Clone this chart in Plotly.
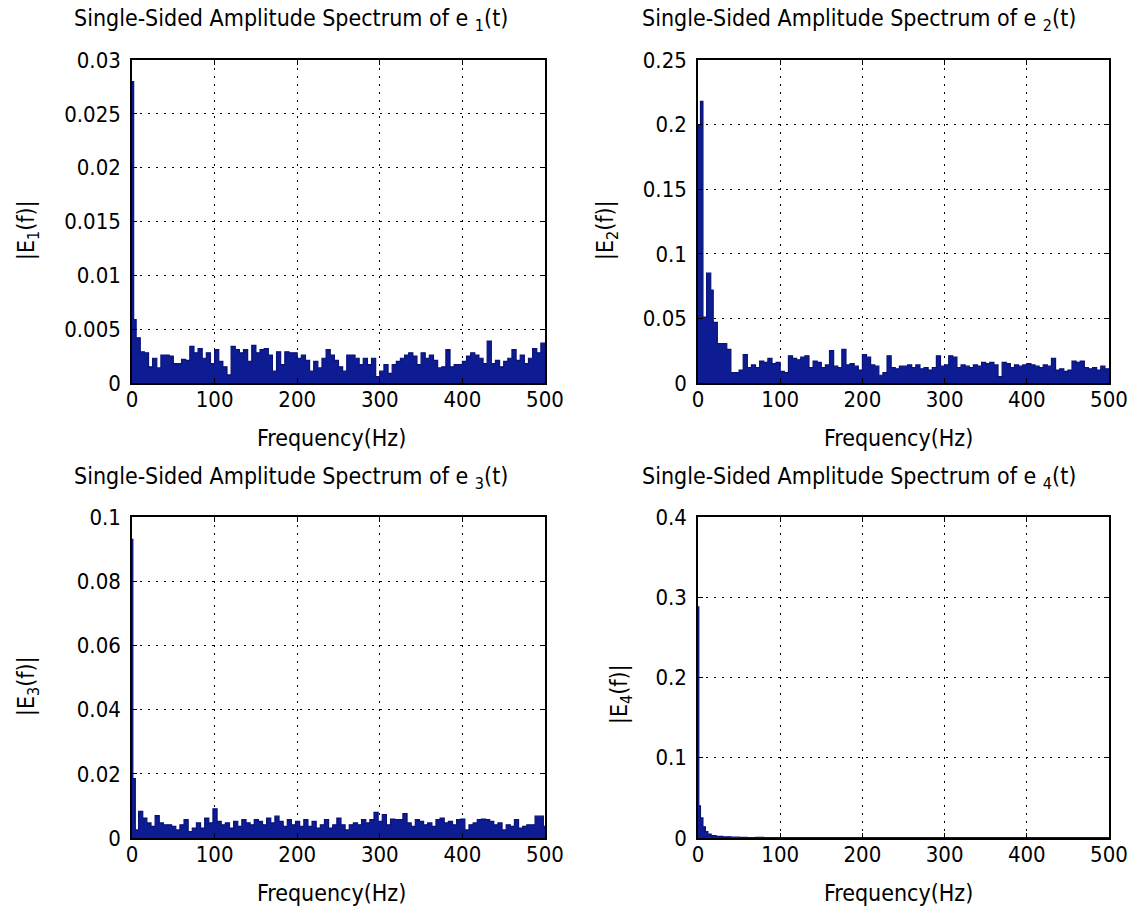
import plotly.graph_objects as go

# ---------------- data ----------------
# e1: frequency bins (Hz) and amplitudes
f1 = [0, 2] + list(range(5, 505, 5))
a1 = [0.028, 0.0059,
      0.0042, 0.0029, 0.0028, 0.0015, 0.0023, 0.0014, 0.0026, 0.0026, 0.0025, 0.0018,
      0.0018, 0.0022, 0.0021, 0.0034, 0.0028, 0.0032, 0.0023, 0.0028, 0.0018, 0.0031,
      0.0020, 0.0015, 0.00075, 0.0034, 0.0031, 0.0028, 0.0031, 0.0020, 0.0035, 0.0028,
      0.0031, 0.0032, 0.0026, 0.0011, 0.0029, 0.0017, 0.0029, 0.0028, 0.0028, 0.0023,
      0.0026, 0.0021, 0.0011, 0.0020, 0.0014, 0.0023, 0.0031, 0.0026, 0.0021, 0.0015,
      0.0011, 0.0026, 0.0026, 0.0023, 0.0017, 0.0023, 0.0017, 0.0023, 0.0006, 0.0011,
      0.0017, 0.0009, 0.0017, 0.0020, 0.0023, 0.0026, 0.0028, 0.0025, 0.0017, 0.0028,
      0.0023, 0.0026, 0.0021, 0.0014, 0.0015, 0.0031, 0.0015, 0.0017, 0.0017, 0.0020,
      0.0025, 0.0028, 0.0026, 0.0023, 0.0018, 0.0039, 0.0018, 0.0021, 0.0015, 0.0020,
      0.0023, 0.0031, 0.0021, 0.0026, 0.0018, 0.0023, 0.0032, 0.0028, 0.0037, 0.0037]

# e2
f2 = [0, 3, 6, 10.5, 15.5, 18.5, 23.5, 35, 40] + list(range(45, 505, 5))
a2 = [0.200, 0.218, 0.051, 0.085, 0.072, 0.047, 0.0305, 0.026, 0.008,
      0.008, 0.010, 0.022, 0.012, 0.014, 0.012, 0.017, 0.016, 0.019, 0.015,
      0.016, 0.009, 0.008, 0.021, 0.019, 0.018, 0.020, 0.021, 0.012, 0.017,
      0.016, 0.012, 0.014, 0.025, 0.013, 0.012, 0.026, 0.014, 0.015, 0.013,
      0.010, 0.022, 0.020, 0.014, 0.013, 0.006, 0.008, 0.021, 0.012, 0.011,
      0.013, 0.013, 0.014, 0.012, 0.014, 0.011, 0.012, 0.010, 0.012, 0.021,
      0.013, 0.014, 0.021, 0.020, 0.012, 0.014, 0.013, 0.012, 0.014, 0.013,
      0.016, 0.015, 0.016, 0.014, 0.005, 0.016, 0.015, 0.012, 0.014, 0.013,
      0.014, 0.015, 0.014, 0.013, 0.012, 0.014, 0.013, 0.019, 0.010, 0.011,
      0.009, 0.010, 0.017, 0.016, 0.017, 0.012, 0.011, 0.012, 0.010, 0.013,
      0.011, 0.011]

# e3
f3 = [0, 1, 4, 8] + list(range(13, 503, 5)) + [500]
a3 = [0.093, 0.0185, 0.0025, 0.0083,
      0.0062, 0.0047, 0.0036, 0.0070, 0.0047, 0.0041, 0.0041, 0.0036, 0.0025, 0.0041,
      0.0057, 0.0020, 0.0031, 0.0047, 0.0031, 0.0062, 0.0047, 0.0091, 0.0052, 0.0041,
      0.0047, 0.0031, 0.0052, 0.0036, 0.0057, 0.0047, 0.0041, 0.0057, 0.0052, 0.0041,
      0.0062, 0.0047, 0.0068, 0.0052, 0.0036, 0.0057, 0.0041, 0.0052, 0.0036, 0.0057,
      0.0036, 0.0052, 0.0031, 0.0041, 0.0057, 0.0031, 0.0041, 0.0062, 0.0041, 0.0025,
      0.0041, 0.0047, 0.0041, 0.0057, 0.0047, 0.0057, 0.0080, 0.0052, 0.0073, 0.0041,
      0.0059, 0.0057, 0.0057, 0.0076, 0.0047, 0.0036, 0.0057, 0.0052, 0.0041, 0.0047,
      0.0036, 0.0057, 0.0062, 0.0047, 0.0052, 0.0041, 0.0057, 0.0059, 0.0025, 0.0041,
      0.0047, 0.0057, 0.0059, 0.0057, 0.0052, 0.0041, 0.0047, 0.0025, 0.0041, 0.0036,
      0.0057, 0.0031, 0.0036, 0.0041, 0.0041, 0.0068, 0.0068, 0.0036, 0.0036]

# e4
f4 = [0, 1, 3, 6, 9, 12, 16, 22] + list(range(30, 510, 10))
a4 = [0.288, 0.040, 0.025, 0.014, 0.008, 0.005, 0.003, 0.002,
      0.0015, 0.0010, 0.0008, 0.0006, 0.0007, 0.0005, 0.0006, 0.0004, 0.0005, 0.0006,
      0.0004, 0.0005, 0.0006, 0.0005, 0.0004, 0.0005, 0.0006, 0.0004, 0.0005, 0.0005,
      0.0004, 0.0006, 0.0005, 0.0004, 0.0005, 0.0006, 0.0004, 0.0005, 0.0005, 0.0004,
      0.0006, 0.0005, 0.0004, 0.0005, 0.0006, 0.0004, 0.0005, 0.0005, 0.0004, 0.0005,
      0.0005, 0.0004, 0.0005, 0.0005, 0.0005, 0.0005, 0.0005, 0.0005]

x_ticks = [0, 100, 200, 300, 400, 500]
y1_ticks = [0, 0.005, 0.01, 0.015, 0.02, 0.025, 0.03]
y2_ticks = [0, 0.05, 0.1, 0.15, 0.2, 0.25]
y3_ticks = [0, 0.02, 0.04, 0.06, 0.08, 0.1]
y4_ticks = [0, 0.1, 0.2, 0.3, 0.4]

titles = ["Single-Sided Amplitude Spectrum of e <sub>1</sub>(t)",
          "Single-Sided Amplitude Spectrum of e <sub>2</sub>(t)",
          "Single-Sided Amplitude Spectrum of e <sub>3</sub>(t)",
          "Single-Sided Amplitude Spectrum of e <sub>4</sub>(t)"]
ylabels = ["|E<sub>1</sub>(f)|", "|E<sub>2</sub>(f)|", "|E<sub>3</sub>(f)|", "|E<sub>4</sub>(f)|"]
xlabel = "Frequency(Hz)"

# ---------------- layout ----------------
W, H = 1132, 910
FONT = "Liberation Sans Narrow, DejaVu Sans Condensed, Arial Narrow, sans-serif"
FS = 23
TFS = 22
FILL = "rgb(14,28,148)"
LINE = "rgb(8,18,120)"

def px_x(p):
    return p / W

def px_y(p):
    return 1 - p / H

panels = [
    dict(f=f1, a=a1, yt=y1_ticks, yr=[0, 0.03], xd=[132, 545], yd=[60, 383]),
    dict(f=f2, a=a2, yt=y2_ticks, yr=[0, 0.25], xd=[698, 1109], yd=[60, 383]),
    dict(f=f3, a=a3, yt=y3_ticks, yr=[0, 0.1], xd=[132, 545], yd=[517, 838]),
    dict(f=f4, a=a4, yt=y4_ticks, yr=[0, 0.4], xd=[698, 1109], yd=[517, 838]),
]

fig = go.Figure()
layout = dict(template="none", width=W, height=H, autosize=False,
              margin=dict(l=0, r=0, t=0, b=0, pad=0),
              paper_bgcolor="white", plot_bgcolor="white", showlegend=False,
              font=dict(family=FONT, size=FS, color="black"))

def fmt(v):
    return "%g" % v

for i, p in enumerate(panels):
    n = "" if i == 0 else str(i + 1)
    fig.add_trace(go.Scatter(x=p["f"], y=p["a"], mode="lines", line_shape="hv",
                             line=dict(color=LINE, width=1.2), fill="tozeroy",
                             fillcolor=FILL, xaxis="x" + n, yaxis="y" + n,
                             hoverinfo="skip"))
    common = dict(showline=True, linecolor="black", linewidth=1.5, mirror="allticks",
                  ticks="inside", ticklen=5, tickcolor="black", tickwidth=1,
                  showgrid=True, gridcolor="black", griddash="2px,6px", gridwidth=1,
                  zeroline=False, automargin=False,
                  tickfont=dict(family=FONT, size=TFS, color="black"))
    layout["xaxis" + n] = dict(common, domain=[px_x(p["xd"][0]), px_x(p["xd"][1])],
                               range=[0, 500], tickvals=x_ticks,
                               ticktext=[str(t) for t in x_ticks],
                               ticklabelstandoff=-4,
                               anchor="y" + n)
    layout["yaxis" + n] = dict(common, domain=[px_y(p["yd"][1]), px_y(p["yd"][0])],
                               range=p["yr"], tickvals=p["yt"],
                               ticktext=[fmt(t) for t in p["yt"]],
                               ticklabelstandoff=5,
                               anchor="x" + n)

annots = []
title_pos = [(72, 20), (640, 20), (72, 478), (640, 478)]
for (x, y), t in zip(title_pos, titles):
    annots.append(dict(text=t, x=px_x(x), y=px_y(y), xref="paper", yref="paper",
                       xanchor="left", yanchor="middle", showarrow=False,
                       font=dict(family=FONT, size=FS, color="black")))
xl_pos = [(332, 438), (898, 438), (332, 893), (898, 893)]
for (x, y) in xl_pos:
    annots.append(dict(text=xlabel, x=px_x(x), y=px_y(y), xref="paper", yref="paper",
                       xanchor="center", yanchor="middle", showarrow=False,
                       font=dict(family=FONT, size=FS, color="black")))
yl_pos = [(28, 230), (607, 230), (28, 686), (621, 694)]
for (x, y), t in zip(yl_pos, ylabels):
    annots.append(dict(text=t, x=px_x(x), y=px_y(y), xref="paper", yref="paper",
                       xanchor="center", yanchor="middle", showarrow=False, textangle=-90,
                       font=dict(family=FONT, size=FS, color="black")))
layout["annotations"] = annots

fig.update_layout(**layout)
fig.write_html("out.html")
